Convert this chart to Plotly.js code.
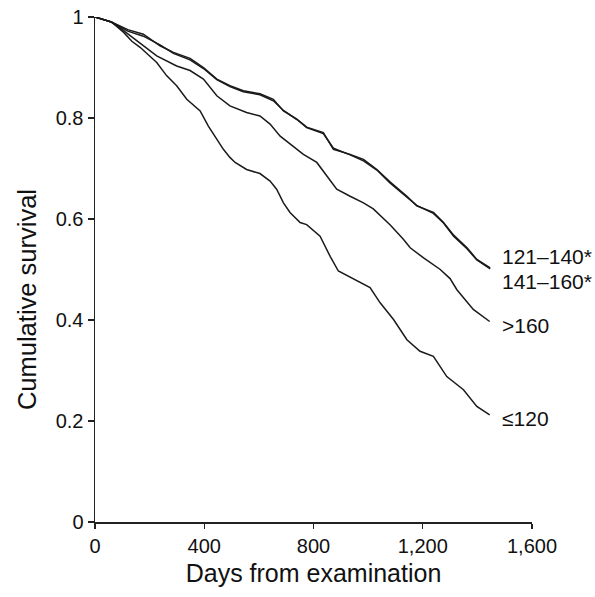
<!DOCTYPE html>
<html>
<head>
<meta charset="utf-8">
<script src="https://cdn.plot.ly/plotly-3.0.1.min.js"></script>
<style>html,body{margin:0;padding:0;background:#fff;}#chart{width:595px;height:597px;}</style>
</head>
<body>
<div id="chart"></div>
<script>
// Series: days from examination and cumulative survival
const daysA = [0, 60, 120, 177, 238, 287, 348, 397, 446, 494, 543, 604, 653, 690, 739, 775, 836, 873, 934, 983, 1032, 1081, 1142, 1178, 1239, 1276, 1313, 1362, 1398, 1447];
const surv121_140 = [1, 0.99, 0.975, 0.966, 0.943, 0.93, 0.918, 0.9, 0.877, 0.864, 0.854, 0.848, 0.837, 0.814, 0.798, 0.782, 0.771, 0.738, 0.728, 0.718, 0.698, 0.673, 0.645, 0.626, 0.613, 0.593, 0.568, 0.543, 0.52, 0.503];
const surv141_160 = [1, 0.99, 0.972, 0.962, 0.945, 0.928, 0.915, 0.898, 0.876, 0.862, 0.852, 0.846, 0.834, 0.815, 0.797, 0.781, 0.769, 0.74, 0.727, 0.715, 0.697, 0.671, 0.643, 0.627, 0.611, 0.592, 0.566, 0.541, 0.519, 0.501];

const daysGt160 = [0, 60, 100, 160, 226, 299, 348, 397, 446, 494, 555, 604, 641, 678, 714, 763, 812, 848, 885, 934, 983, 1019, 1081, 1129, 1154, 1203, 1264, 1300, 1325, 1385, 1445];
const survGt160 = [1, 0.99, 0.975, 0.95, 0.923, 0.903, 0.894, 0.877, 0.844, 0.824, 0.811, 0.804, 0.788, 0.764, 0.748, 0.728, 0.712, 0.685, 0.659, 0.645, 0.632, 0.62, 0.588, 0.56, 0.543, 0.523, 0.5, 0.482, 0.46, 0.421, 0.397];

const daysLe120 = [0, 60, 104, 135, 165, 226, 262, 299, 336, 385, 415, 440, 470, 494, 513, 555, 604, 641, 665, 690, 714, 751, 775, 824, 861, 891, 958, 1007, 1044, 1093, 1142, 1190, 1239, 1288, 1349, 1398, 1445];
const survLe120 = [1, 0.99, 0.97, 0.952, 0.94, 0.91, 0.884, 0.864, 0.837, 0.814, 0.784, 0.764, 0.738, 0.722, 0.712, 0.698, 0.69, 0.675, 0.659, 0.632, 0.613, 0.593, 0.589, 0.566, 0.526, 0.497, 0.478, 0.464, 0.434, 0.401, 0.361, 0.338, 0.328, 0.288, 0.262, 0.229, 0.212];

const labels = ['121–140*', '141–160*', '>160', '≤120'];
const xTicks = [0, 400, 800, 1200, 1600];
const yTicks = [0, 0.2, 0.4, 0.6, 0.8, 1];

const font = 'Liberation Sans, Arial, Helvetica, sans-serif';
const lineStyle = {color: '#1a1a1a', width: 1.5};

const traces = [
  {x: daysA, y: surv121_140, name: labels[0]},
  {x: daysA, y: surv141_160, name: labels[1]},
  {x: daysGt160, y: survGt160, name: labels[2]},
  {x: daysLe120, y: survLe120, name: labels[3]}
].map(t => Object.assign(t, {type: 'scatter', mode: 'lines', line: lineStyle, hoverinfo: 'x+y+name'}));

const labelY = [0.525, 0.477, 0.389, 0.204];
const annotations = labels.map((txt, i) => ({
  x: 1484, y: labelY[i], xref: 'x', yref: 'y', text: txt, showarrow: false,
  xanchor: 'left', yanchor: 'middle', font: {family: font, size: 21, color: '#111'}
}));
// y-axis title, placed slightly below the axis centre as in the reference
annotations.push({
  x: -0.155, y: 0.44, xref: 'paper', yref: 'paper', text: 'Cumulative survival', textangle: -90,
  showarrow: false, xanchor: 'center', yanchor: 'middle', font: {family: font, size: 25.5, color: '#111'}
});

const layout = {
  width: 595, height: 597,
  margin: {l: 95, r: 63, t: 17, b: 75},
  paper_bgcolor: '#fff', plot_bgcolor: '#fff',
  showlegend: false,
  font: {family: font, color: '#111'},
  xaxis: {
    range: [0, 1600], tickvals: xTicks, tickformat: ',d',
    showgrid: false, zeroline: false, showline: true, linecolor: '#222', linewidth: 1.5,
    ticks: 'outside', ticklen: 5, tickwidth: 1.2, tickcolor: '#222',
    tickfont: {family: font, size: 20, color: '#111'},
    title: {text: 'Days from examination', font: {family: font, size: 25, color: '#111'}, standoff: 9}
  },
  yaxis: {
    range: [0, 1], tickvals: yTicks,
    showgrid: false, zeroline: false, showline: true, linecolor: '#222', linewidth: 1.5,
    ticks: 'outside', ticklen: 6, tickwidth: 1.2, tickcolor: '#222',
    tickfont: {family: font, size: 20, color: '#111'}
  },
  annotations: annotations
};

Plotly.newPlot('chart', traces, layout, {displayModeBar: false, staticPlot: true});
</script>
</body>
</html>
